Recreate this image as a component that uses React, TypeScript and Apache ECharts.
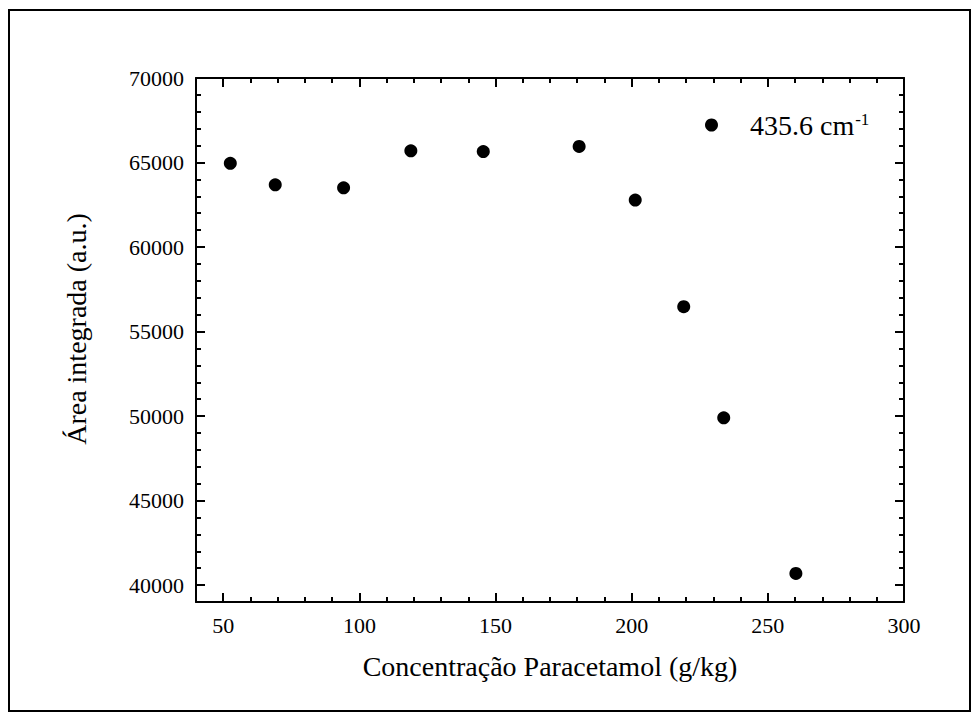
import React, { useEffect, useRef } from "react";
import * as echarts from "echarts";

const concentration = [52.6, 69.1, 94.2, 118.9, 145.5, 180.7, 201.3, 219.1, 233.8, 260.3];
const area = [64950, 63680, 63500, 65690, 65650, 65950, 62780, 56470, 49900, 40690];

const xMajor = [50, 100, 150, 200, 250, 300];
const xMinor = [60, 70, 80, 90, 110, 120, 130, 140, 160, 170, 180, 190, 210, 220, 230, 240, 260, 270, 280, 290];
const yMajor = [40000, 45000, 50000, 55000, 60000, 65000, 70000];
const yMinor = [
  39000, 41000, 42000, 43000, 44000, 46000, 47000, 48000, 49000, 51000, 52000, 53000, 54000,
  56000, 57000, 58000, 59000, 61000, 62000, 63000, 64000, 66000, 67000, 68000, 69000,
];

const seriesName = "435.6 cm-1";
const xTitle = "Concentração Paracetamol (g/kg)";
const yTitle = "Área integrada (a.u.)";

const FONT = "'Liberation Serif', 'Times New Roman', serif";

export default function App() {
  const ref = useRef<HTMLDivElement>(null);
  useEffect(() => {
    if (!ref.current) return;
    const chart = echarts.init(ref.current, null, { renderer: "svg" });
    const line = { lineStyle: { color: "#000", width: 2 } };
    const makeX = (pos: string, major: boolean, labels: boolean, showLine: boolean) => ({
      type: "value",
      position: pos,
      min: 40,
      max: 300,
      axisLine: { show: showLine, onZero: false, ...line },
      axisTick: {
        show: true,
        inside: true,
        length: major ? 9 : 5,
        customValues: major ? xMajor : xMinor,
        lineStyle: { color: "#000", width: 2 },
      },
      axisLabel: {
        show: labels,
        customValues: xMajor,
        formatter: (v: number) => String(v),
        fontFamily: FONT,
        fontSize: 22,
        color: "#000",
        margin: 12,
      },
      splitLine: { show: false },
    });
    const makeY = (pos: string, major: boolean, labels: boolean, showLine: boolean) => ({
      type: "value",
      position: pos,
      min: 39000,
      max: 70000,
      axisLine: { show: showLine, onZero: false, ...line },
      axisTick: {
        show: true,
        inside: true,
        length: major ? 9 : 5,
        customValues: major ? yMajor : yMinor,
        lineStyle: { color: "#000", width: 2 },
      },
      axisLabel: {
        show: labels,
        customValues: yMajor,
        formatter: (v: number) => String(v),
        fontFamily: FONT,
        fontSize: 22,
        color: "#000",
        margin: 12,
      },
      splitLine: { show: false },
    });
    chart.setOption({
      animation: false,
      backgroundColor: "#fff",
      grid: { left: 196, top: 78, right: 75, bottom: 118, containLabel: false },
      xAxis: [
        makeX("bottom", true, true, true),
        makeX("bottom", false, false, false),
        makeX("top", true, false, true),
        makeX("top", false, false, false),
      ],
      yAxis: [
        makeY("left", true, true, true),
        makeY("left", false, false, false),
        makeY("right", true, false, true),
        makeY("right", false, false, false),
      ],
      legend: {
        left: 700,
        top: 104,
        icon: "circle",
        itemWidth: 13,
        itemHeight: 13,
        data: [seriesName],
        formatter: () => "{a|435.6 cm}{b|-1}",
        textStyle: {
          color: "#000",
          fontFamily: FONT,
          rich: {
            a: { fontSize: 28, fontFamily: FONT, color: "#000", padding: [0, 0, 0, 27], lineHeight: 32 },
            b: { fontSize: 17, fontFamily: FONT, color: "#000", verticalAlign: "top", lineHeight: 32, padding: [2, 0, 0, 1] },
          },
        },
      },
      graphic: [
        {
          type: "rect",
          shape: { x: 9, y: 10, width: 961, height: 701 },
          style: { fill: "none", stroke: "#000", lineWidth: 2 },
          silent: true,
        },
        {
          type: "text",
          x: 550,
          y: 666,
          style: {
            text: xTitle,
            font: `28px ${FONT}`,
            fill: "#000",
            textAlign: "center",
            textVerticalAlign: "middle",
          },
        },
        {
          type: "text",
          x: 76,
          y: 329,
          rotation: Math.PI / 2,
          style: {
            text: yTitle,
            font: `28px ${FONT}`,
            fill: "#000",
            textAlign: "center",
            textVerticalAlign: "middle",
          },
        },
      ],
      series: [
        {
          name: seriesName,
          type: "scatter",
          xAxisIndex: 0,
          yAxisIndex: 0,
          symbol: "circle",
          symbolSize: 13,
          itemStyle: { color: "#000", opacity: 1 },
          data: concentration.map((c, i) => [c, area[i]]),
        },
      ],
    });
    return () => chart.dispose();
  }, []);
  return (
    <div
      ref={ref}
      style={{ position: "fixed", left: 0, top: 0, width: 979, height: 720, background: "#fff" }}
    />
  );
}
